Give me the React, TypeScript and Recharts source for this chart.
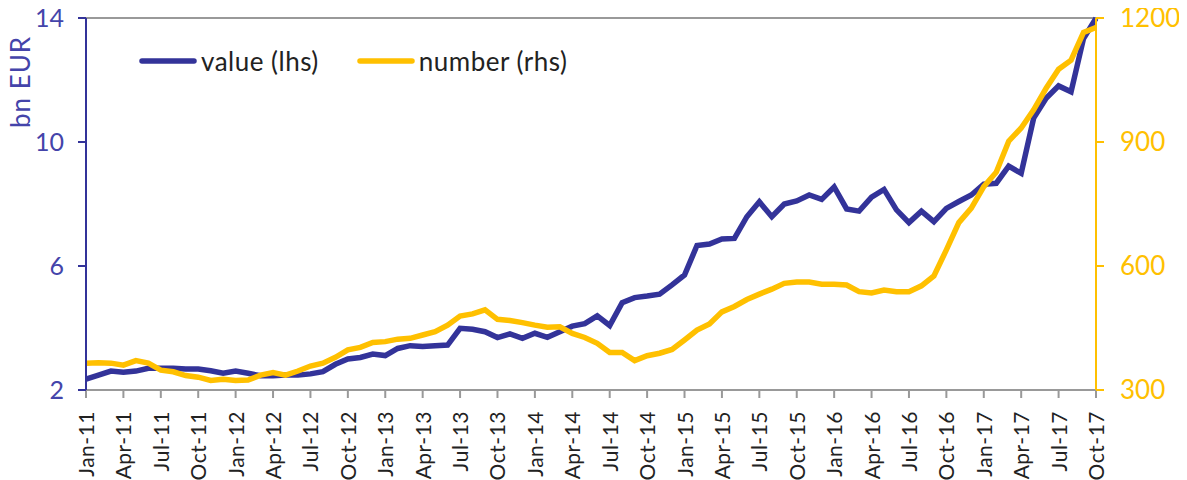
import React from 'react';
import {
    LineChart,
    Line,
    XAxis,
    YAxis,
    CartesianGrid,
} from 'recharts';

const monthNames = ['Jan', 'Feb', 'Mar', 'Apr', 'May', 'Jun', 'Jul', 'Aug', 'Sep', 'Oct', 'Nov', 'Dec'];
const years = ['11', '12', '13', '14', '15', '16', '17'];

// value in bn EUR (left axis)
const valueLhs = [
    2.35, 2.48, 2.61, 2.57, 2.61, 2.7, 2.7, 2.7, 2.68, 2.68, 2.62, 2.54,
    2.61, 2.54, 2.46, 2.46, 2.48, 2.48, 2.52, 2.59, 2.83, 3.0, 3.05, 3.16,
    3.11, 3.34, 3.43, 3.4, 3.43, 3.45, 3.99, 3.96, 3.88, 3.69, 3.81, 3.67,
    3.83, 3.7, 3.88, 4.06, 4.14, 4.39, 4.08, 4.82, 4.98, 5.03, 5.09, 5.39,
    5.71, 6.66, 6.71, 6.87, 6.89, 7.59, 8.07, 7.59, 8.0, 8.1, 8.29, 8.15,
    8.55, 7.84, 7.77, 8.22, 8.47, 7.81, 7.4, 7.77, 7.43, 7.86, 8.08, 8.29,
    8.64, 8.67, 9.22, 8.99, 10.77, 11.41, 11.81, 11.62, 13.34, 13.99,
];

// number (right axis)
const numberRhs = [
    365, 366, 365, 360, 371, 365, 348, 344, 335, 331, 323, 326,
    323, 324, 336, 342, 336, 346, 358, 365, 379, 397, 403, 415,
    417, 423, 425, 433, 441, 457, 479, 484, 494, 471, 468, 463,
    457, 452, 453, 437, 427, 413, 391, 391, 371, 383, 389, 398,
    421, 445, 460, 489, 502, 519, 532, 544, 558, 561, 561, 556,
    556, 554, 538, 535, 542, 538, 538, 552, 576, 639, 705, 740,
    792, 827, 902, 934, 978, 1030, 1076, 1098, 1165, 1177,
];

const leftTicks = [2, 6, 10, 14];
const rightTicks = [300, 600, 900, 1200];

const months: string[] = [];
years.forEach((y) => monthNames.forEach((m) => months.push(`${m}-${y}`)));

const data = valueLhs.map((v, i) => ({
    month: months[i],
    value: v,
    number: numberRhs[i],
}));

const BLUE = '#333399';
const YELLOW = '#FFC000';
const FONT = 'Lato, "Open Sans", sans-serif';

const XTick = (props: any) => {
    const { x, y, payload } = props;
    return (
        <text
            transform={`translate(${x + 8},${y + 11}) rotate(-90)`}
            textAnchor="end"
            fontSize={21}
            letterSpacing={0.5}
            fill="#222"
            fontFamily={FONT}
        >
            {payload.value}
        </text>
    );
};

const LegendSample = ({ color }: { color: string }) => (
    <svg width={58} height={10}>
        <line x1={3} y1={5} x2={55} y2={5} stroke={color} strokeWidth={5.5} strokeLinecap="round" />
    </svg>
);

// the page has an 8px body margin; pull the chart back to the corner so the
// axis title and top tick labels have room like in the original
const App = () => {
    return (
        <div style={{ position: 'relative', width: 1187, height: 480, margin: '-8px 0 0 -8px' }}>
            <LineChart
                width={1187}
                height={480}
                data={data}
                margin={{ top: 18, right: 0, left: 0, bottom: 0 }}
                style={{ overflow: 'visible' }}
            >
                <CartesianGrid vertical={false} stroke="#999" strokeWidth={2} />
                <XAxis
                    dataKey="month"
                    interval={2}
                    height={90}
                    tick={<XTick />}
                    tickSize={8}
                    axisLine={{ stroke: '#999', strokeWidth: 2 }}
                    tickLine={{ stroke: '#999', strokeWidth: 2 }}
                />
                <YAxis
                    yAxisId="left"
                    width={86}
                    domain={[2, 14]}
                    ticks={leftTicks}
                    tickSize={8}
                    tickMargin={14}
                    axisLine={{ stroke: BLUE, strokeWidth: 2 }}
                    tickLine={{ stroke: BLUE, strokeWidth: 2 }}
                    tick={{ fill: '#4444aa', fontSize: 25, fontFamily: FONT }}
                    label={{
                        content: (p: any) => (
                            <text
                                transform={`translate(${p.viewBox.x + 30},${p.viewBox.y + 64}) rotate(-90)`}
                                textAnchor="middle"
                                fill="#4444aa"
                                fontSize={26}
                                letterSpacing={1}
                                fontFamily={FONT}
                            >
                                bn EUR
                            </text>
                        ),
                    }}
                />
                <YAxis
                    yAxisId="right"
                    orientation="right"
                    width={91}
                    domain={[300, 1200]}
                    ticks={rightTicks}
                    tickSize={8}
                    tickMargin={16}
                    axisLine={{ stroke: YELLOW, strokeWidth: 2 }}
                    tickLine={{ stroke: YELLOW, strokeWidth: 2 }}
                    tick={{ fill: YELLOW, fontSize: 26, fontFamily: FONT }}
                />
                <Line
                    yAxisId="left"
                    dataKey="value"
                    stroke={BLUE}
                    strokeWidth={5.5}
                    dot={false}
                    isAnimationActive={false}
                />
                <Line
                    yAxisId="right"
                    dataKey="number"
                    stroke={YELLOW}
                    strokeWidth={5.5}
                    dot={false}
                    isAnimationActive={false}
                />
            </LineChart>
            <div
                style={{
                    position: 'absolute',
                    top: 45,
                    left: 139,
                    display: 'flex',
                    alignItems: 'center',
                    fontFamily: FONT,
                    fontSize: 26,
                    letterSpacing: 0.5,
                    color: '#222',
                    whiteSpace: 'nowrap',
                }}
            >
                <LegendSample color={BLUE} />
                <span style={{ marginLeft: 4 }}>value (lhs)</span>
                <span style={{ marginLeft: 38, display: 'flex' }}>
                    <LegendSample color={YELLOW} />
                </span>
                <span style={{ marginLeft: 4 }}>number (rhs)</span>
            </div>
        </div>
    );
};

export default App;
